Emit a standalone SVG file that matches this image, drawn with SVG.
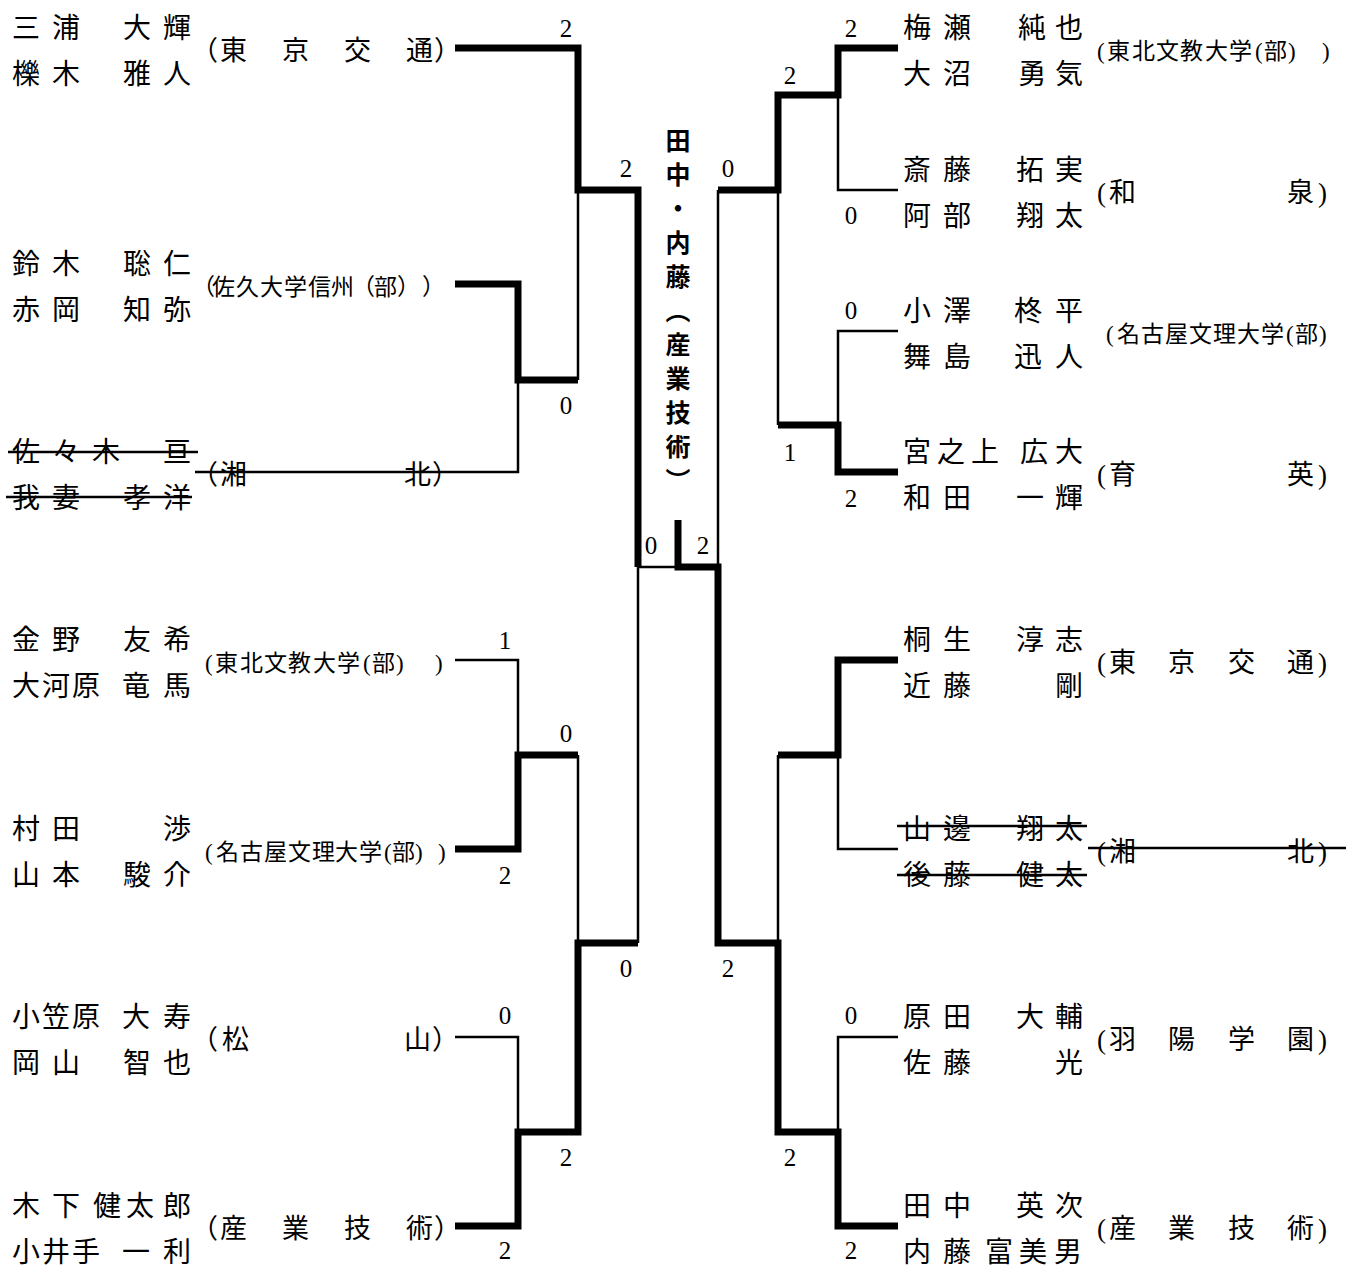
<svg xmlns="http://www.w3.org/2000/svg" width="1346" height="1266" viewBox="0 0 1346 1266">
<style>
text{font-family:"Liberation Serif","Noto Sans CJK JP",serif;fill:#000}
.nm{font-size:28px}
.tm{font-size:27px}
.ts{font-size:23px}
.sc{font-size:25px;text-anchor:middle}
.ct{font-family:"Noto Sans CJK JP","Noto Sans",sans-serif;font-size:25px;font-weight:bold;writing-mode:vertical-rl;letter-spacing:9px}
.k{stroke:#000;stroke-width:7;fill:none;stroke-linejoin:miter;stroke-linecap:butt}
.t{stroke:#000;stroke-width:2.5;fill:none;stroke-linecap:butt}
.s{stroke:#000;stroke-width:2.6;fill:none}
</style>
<rect width="1346" height="1266" fill="#fff"/>
<g id="connectors">
<path class="t" d="M578,190V380"/>
<path class="t" d="M195,472H518V380"/>
<path class="t" d="M455,660H518V755"/>
<path class="t" d="M578,755V943"/>
<path class="t" d="M455,1037H518V1132"/>
<path class="t" d="M638,943V567H678"/>
<path class="t" d="M718,567V190"/>
<path class="t" d="M838,95V190H898"/>
<path class="t" d="M778,190V425"/>
<path class="t" d="M838,425V331H898"/>
<path class="t" d="M778,943V755"/>
<path class="t" d="M838,755V849H898"/>
<path class="t" d="M898,1037H838V1132"/>
<path class="k" d="M455,48H578V190H638V567"/>
<path class="k" d="M455,284H518V380H578"/>
<path class="k" d="M455,849H518V755H578"/>
<path class="k" d="M455,1226H518V1132H578V943H638"/>
<path class="k" d="M678,520V567H718V943H778V1132H838V1226H898"/>
<path class="k" d="M718,190H778V95H838V48H898"/>
<path class="k" d="M778,425H838V472H898"/>
<path class="k" d="M898,660H838V755H778"/>
</g>
<g id="scores">
<text class="sc" x="566" y="37">2</text>
<text class="sc" x="626" y="177">2</text>
<text class="sc" x="566" y="414">0</text>
<text class="sc" x="505" y="649">1</text>
<text class="sc" x="566" y="742">0</text>
<text class="sc" x="505" y="884">2</text>
<text class="sc" x="626" y="977">0</text>
<text class="sc" x="505" y="1024">0</text>
<text class="sc" x="566" y="1166">2</text>
<text class="sc" x="505" y="1259">2</text>
<text class="sc" x="651" y="554">0</text>
<text class="sc" x="703" y="554">2</text>
<text class="sc" x="851" y="37">2</text>
<text class="sc" x="790" y="84">2</text>
<text class="sc" x="728" y="177">0</text>
<text class="sc" x="851" y="224">0</text>
<text class="sc" x="851" y="319">0</text>
<text class="sc" x="790" y="461">1</text>
<text class="sc" x="851" y="507">2</text>
<text class="sc" x="728" y="977">2</text>
<text class="sc" x="851" y="1024">0</text>
<text class="sc" x="790" y="1166">2</text>
<text class="sc" x="851" y="1259">2</text>
</g>
<g id="champion">
<text class="ct" x="678" y="128">田中・内藤（産業技術）</text>
</g>
<g id="L1">
<text class="nm" x="12 52 88 123 163" y="38">三浦　大輝</text>
<text class="nm" x="12 52 88 123 163" y="84">櫟木　雅人</text>
<text class="tm" x="191 220 251 282 313 344 375 406 434" y="60">（東　京　交　通）</text>
</g>
<g id="L2">
<text class="nm" x="12 52 88 123 163" y="274">鈴木　聡仁</text>
<text class="nm" x="12 52 88 123 163" y="320">赤岡　知弥</text>
<text class="ts" x="192 212 236 260 284 308 331 352 374 397 422" y="295">（佐久大学信州（部））</text>
</g>
<g id="L3">
<text class="nm" x="12 52 92 128 163" y="462">佐々木　亘</text>
<text class="nm" x="12 52 88 123 163" y="508">我妻　孝洋</text>
<text class="tm" x="191 220 251 282 313 344 375 404 432" y="484">（湘　　　　　北）</text>
<path class="s" d="M8,452H198M6,497H192"/>
</g>
<g id="L5">
<text class="nm" x="12 52 88 123 163" y="650">金野　友希</text>
<text class="nm" x="12 42 72 100 122 163" y="696">大河原　竜馬</text>
<text class="ts" x="205 215 240 264 288 313 337 363 372 396 435" y="671">(東北文教大学(部))</text>
</g>
<g id="L6">
<text class="nm" x="12 52 88 123 163" y="839">村田　　渉</text>
<text class="nm" x="12 52 88 123 163" y="885">山本　駿介</text>
<text class="ts" x="205 216 240 264 288 312 335 359 384 392 415 438" y="860">(名古屋文理大学(部))</text>
</g>
<g id="L7">
<text class="nm" x="12 42 72 100 122 163" y="1027">小笠原　大寿</text>
<text class="nm" x="12 52 88 123 163" y="1073">岡山　智也</text>
<text class="tm" x="191 222 251 282 313 344 375 404 432" y="1049">（松　　　　　山）</text>
</g>
<g id="L8">
<text class="nm" x="12 52 80 93 126 163" y="1216">木下　健太郎</text>
<text class="nm" x="12 42 72 100 122 163" y="1262">小井手　一利</text>
<text class="tm" x="191 220 251 282 313 344 375 406 434" y="1238">（産　業　技　術）</text>
</g>
<g id="R1">
<text class="nm" x="903 943 980 1018 1055" y="38">梅瀬　純也</text>
<text class="nm" x="903 943 980 1018 1055" y="84">大沼　勇気</text>
<text class="ts" x="1097 1107 1132 1156 1180 1205 1229 1255 1264 1288 1322" y="59">(東北文教大学(部))</text>
</g>
<g id="R2">
<text class="nm" x="903 943 980 1016 1055" y="180">斎藤　拓実</text>
<text class="nm" x="903 943 980 1016 1055" y="226">阿部　翔太</text>
<text class="tm" x="1097 1109 1139 1168 1198 1228 1258 1287 1318" y="202">(和　　　　　泉)</text>
</g>
<g id="R3">
<text class="nm" x="903 943 980 1014 1055" y="321">小澤　柊平</text>
<text class="nm" x="903 943 980 1014 1055" y="367">舞島　迅人</text>
<text class="ts" x="1106 1117 1141 1165 1189 1213 1237 1261 1286 1295 1319" y="342">(名古屋文理大学(部)</text>
</g>
<g id="R4">
<text class="nm" x="903 937 971 1000 1020 1055" y="462">宮之上　広大</text>
<text class="nm" x="903 943 980 1016 1055" y="508">和田　一輝</text>
<text class="tm" x="1097 1109 1139 1168 1198 1228 1258 1287 1318" y="484">(育　　　　　英)</text>
</g>
<g id="R5">
<text class="nm" x="903 943 980 1016 1055" y="650">桐生　淳志</text>
<text class="nm" x="903 943 980 1016 1055" y="696">近藤　　剛</text>
<text class="tm" x="1097 1109 1139 1168 1198 1228 1258 1287 1318" y="672">(東　京　交　通)</text>
</g>
<g id="R6">
<text class="nm" x="903 943 980 1016 1055" y="839">山邊　翔太</text>
<text class="nm" x="903 943 980 1016 1055" y="885">後藤　健太</text>
<text class="tm" x="1097 1109 1139 1168 1198 1228 1258 1287 1318" y="861">(湘　　　　　北)</text>
<path class="s" d="M897,826H1087M897,875H1087M1088,848H1346"/>
</g>
<g id="R7">
<text class="nm" x="903 943 980 1016 1055" y="1027">原田　大輔</text>
<text class="nm" x="903 943 980 1016 1055" y="1073">佐藤　　光</text>
<text class="tm" x="1097 1109 1139 1168 1198 1228 1258 1287 1318" y="1049">(羽　陽　学　園)</text>
</g>
<g id="R8">
<text class="nm" x="903 943 980 1016 1055" y="1216">田中　英次</text>
<text class="nm" x="903 943 965 985 1019 1054" y="1262">内藤　富美男</text>
<text class="tm" x="1097 1109 1139 1168 1198 1228 1258 1287 1318" y="1238">(産　業　技　術)</text>
</g>
</svg>
